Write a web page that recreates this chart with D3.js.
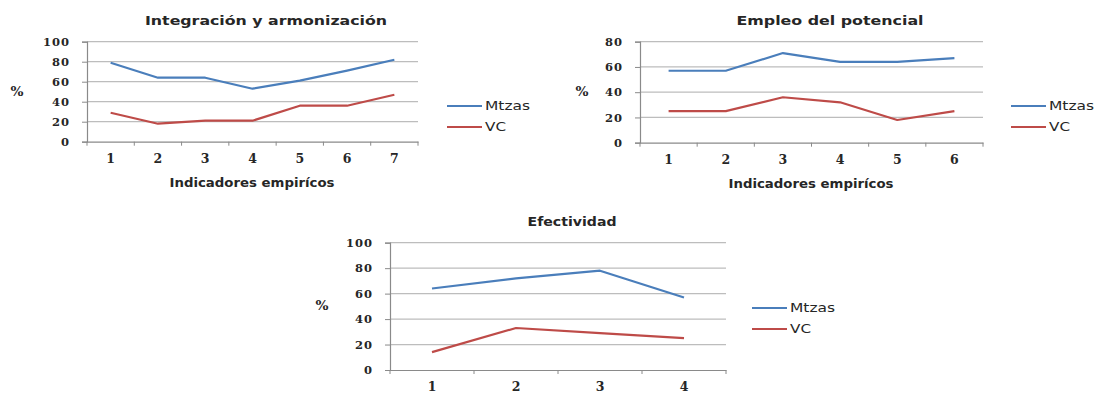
<!DOCTYPE html>
<html><head><meta charset="utf-8">
<script src="https://cdn.jsdelivr.net/npm/d3@7"></script>
<style>body{margin:0;background:#fff}svg{display:block}</style>
</head><body>
<svg id="c" width="1099" height="394"></svg>
<script>
// ---- data ----
const seriesNames = ["Mtzas", "VC"];
const xTitle = "Indicadores empirícos";
const yTitle = "%";

const title1 = "Integración y armonización";
const cats1 = ["1","2","3","4","5","6","7"];
const mtzas1 = [79, 64, 64, 53, 61, 71, 82];
const vc1 = [29, 18, 21, 21, 36, 36, 47];
const yTicks1 = [0, 20, 40, 60, 80, 100];

const title2 = "Empleo del potencial";
const cats2 = ["1","2","3","4","5","6"];
const mtzas2 = [57, 57, 71, 64, 64, 67];
const vc2 = [25, 25, 36, 32, 18, 25];
const yTicks2 = [0, 20, 40, 60, 80];

const title3 = "Efectividad";
const cats3 = ["1","2","3","4"];
const mtzas3 = [64, 72, 78, 57];
const vc3 = [14, 33, 29, 25];
const yTicks3 = [0, 20, 40, 60, 80, 100];

// ---- styling / layout ----
const colors = ["#4a7ebb", "#be4b48"];
const textColor = "#262626";
const svg = d3.select("#c");

function chart(cfg) {
  const g = svg.append("g");
  const x = d3.scaleBand().domain(cfg.cats).range([cfg.left, cfg.right]);
  const y = d3.scaleLinear().domain([0, d3.max(cfg.ticks)]).range([cfg.bottom, cfg.top]);

  // gridlines
  g.selectAll(".grid").data(cfg.ticks.filter(t => t > 0)).enter().append("line")
    .attr("x1", cfg.left).attr("x2", cfg.right)
    .attr("y1", d => y(d)).attr("y2", d => y(d))
    .attr("stroke", "#bdbdbd").attr("stroke-width", 1.2);

  // y axis
  const ya = g.append("g").attr("transform", `translate(${cfg.left},0)`)
    .call(d3.axisLeft(y).tickValues(cfg.ticks).tickSize(5).tickPadding(12));
  ya.select(".domain").attr("stroke", "#8a8a8a").attr("stroke-width", 1.2);
  ya.selectAll(".tick line").attr("stroke", "#8a8a8a");
  ya.selectAll("text").attr("font-family", "DejaVu Serif").attr("font-weight", "bold")
    .attr("font-size", 11.5).attr("letter-spacing", 1).attr("fill", textColor);

  // x axis
  const xa = g.append("g").attr("transform", `translate(0,${cfg.bottom})`)
    .call(d3.axisBottom(x).tickSize(0).tickPadding(12));
  xa.select(".domain").attr("stroke", "#8a8a8a").attr("stroke-width", 1.2);
  xa.selectAll("text").attr("font-family", "DejaVu Serif").attr("font-weight", "bold")
    .attr("font-size", 12.5).attr("fill", textColor);
  // category boundary ticks
  const bounds = cfg.cats.map(c => x(c)).concat([cfg.right]);
  g.selectAll(".xt").data(bounds).enter().append("line")
    .attr("x1", d => d).attr("x2", d => d)
    .attr("y1", cfg.bottom).attr("y2", cfg.bottom + 4)
    .attr("stroke", "#8a8a8a");

  // lines
  const line = d3.line().x((d, i) => x(cfg.cats[i]) + x.bandwidth() / 2).y(d => y(d));
  [cfg.s1, cfg.s2].forEach((s, i) => {
    g.append("path").datum(s).attr("d", line)
      .attr("fill", "none").attr("stroke", colors[i]).attr("stroke-width", 2.2)
      .attr("stroke-linejoin", "round");
  });

  // title
  g.append("text").attr("x", cfg.titleX).attr("y", cfg.top - 21)
    .attr("text-anchor", "middle").attr("dominant-baseline", "central")
    .attr("font-family", "DejaVu Sans").attr("font-weight", "bold").attr("font-size", 12.5)
    .attr("textLength", cfg.titleW).attr("lengthAdjust", "spacingAndGlyphs")
    .attr("fill", textColor).text(cfg.title);

  // y title
  g.append("text").attr("x", cfg.pctX).attr("y", (cfg.top + cfg.bottom) / 2)
    .attr("text-anchor", "middle").attr("dominant-baseline", "central")
    .attr("font-family", "DejaVu Serif").attr("font-weight", "bold").attr("font-size", 12)
    .attr("textLength", 13).attr("lengthAdjust", "spacingAndGlyphs")
    .attr("fill", textColor).text(yTitle);

  // x title
  if (cfg.xTitle) {
    g.append("text").attr("x", cfg.xTitleX).attr("y", cfg.bottom + 41)
      .attr("text-anchor", "middle").attr("dominant-baseline", "central")
      .attr("font-family", "DejaVu Sans").attr("font-weight", "bold").attr("font-size", 11.5)
      .attr("textLength", 165).attr("lengthAdjust", "spacingAndGlyphs")
      .attr("fill", textColor).text(xTitle);
  }

  // legend
  seriesNames.forEach((n, i) => {
    const ly = cfg.legY + i * 21;
    g.append("line").attr("x1", cfg.legX).attr("x2", cfg.legX + 35)
      .attr("y1", ly).attr("y2", ly).attr("stroke", colors[i]).attr("stroke-width", 2.2);
    g.append("text").attr("x", cfg.legX + 38).attr("y", ly)
      .attr("dominant-baseline", "central")
      .attr("font-family", "DejaVu Sans").attr("font-size", 12)
      .attr("textLength", i === 0 ? 45 : 21).attr("lengthAdjust", "spacingAndGlyphs")
      .attr("fill", textColor).text(n);
  });
}

chart({cats: cats1, s1: mtzas1, s2: vc1, ticks: yTicks1, title: title1,
  left: 87, right: 418, top: 41.7, bottom: 141.7,
  titleX: 266, titleW: 242, pctX: 17, xTitle: true, xTitleX: 252,
  legX: 447, legY: 106});
chart({cats: cats2, s1: mtzas2, s2: vc2, ticks: yTicks2, title: title2,
  left: 640, right: 983, top: 41.7, bottom: 142.7,
  titleX: 830, titleW: 187, pctX: 582, xTitle: true, xTitleX: 811,
  legX: 1011, legY: 106});
chart({cats: cats3, s1: mtzas3, s2: vc3, ticks: yTicks3, title: title3,
  left: 390, right: 726, top: 242.7, bottom: 370,
  titleX: 572, titleW: 89, pctX: 322, xTitle: false,
  legX: 752, legY: 308});
</script>
</body></html>
